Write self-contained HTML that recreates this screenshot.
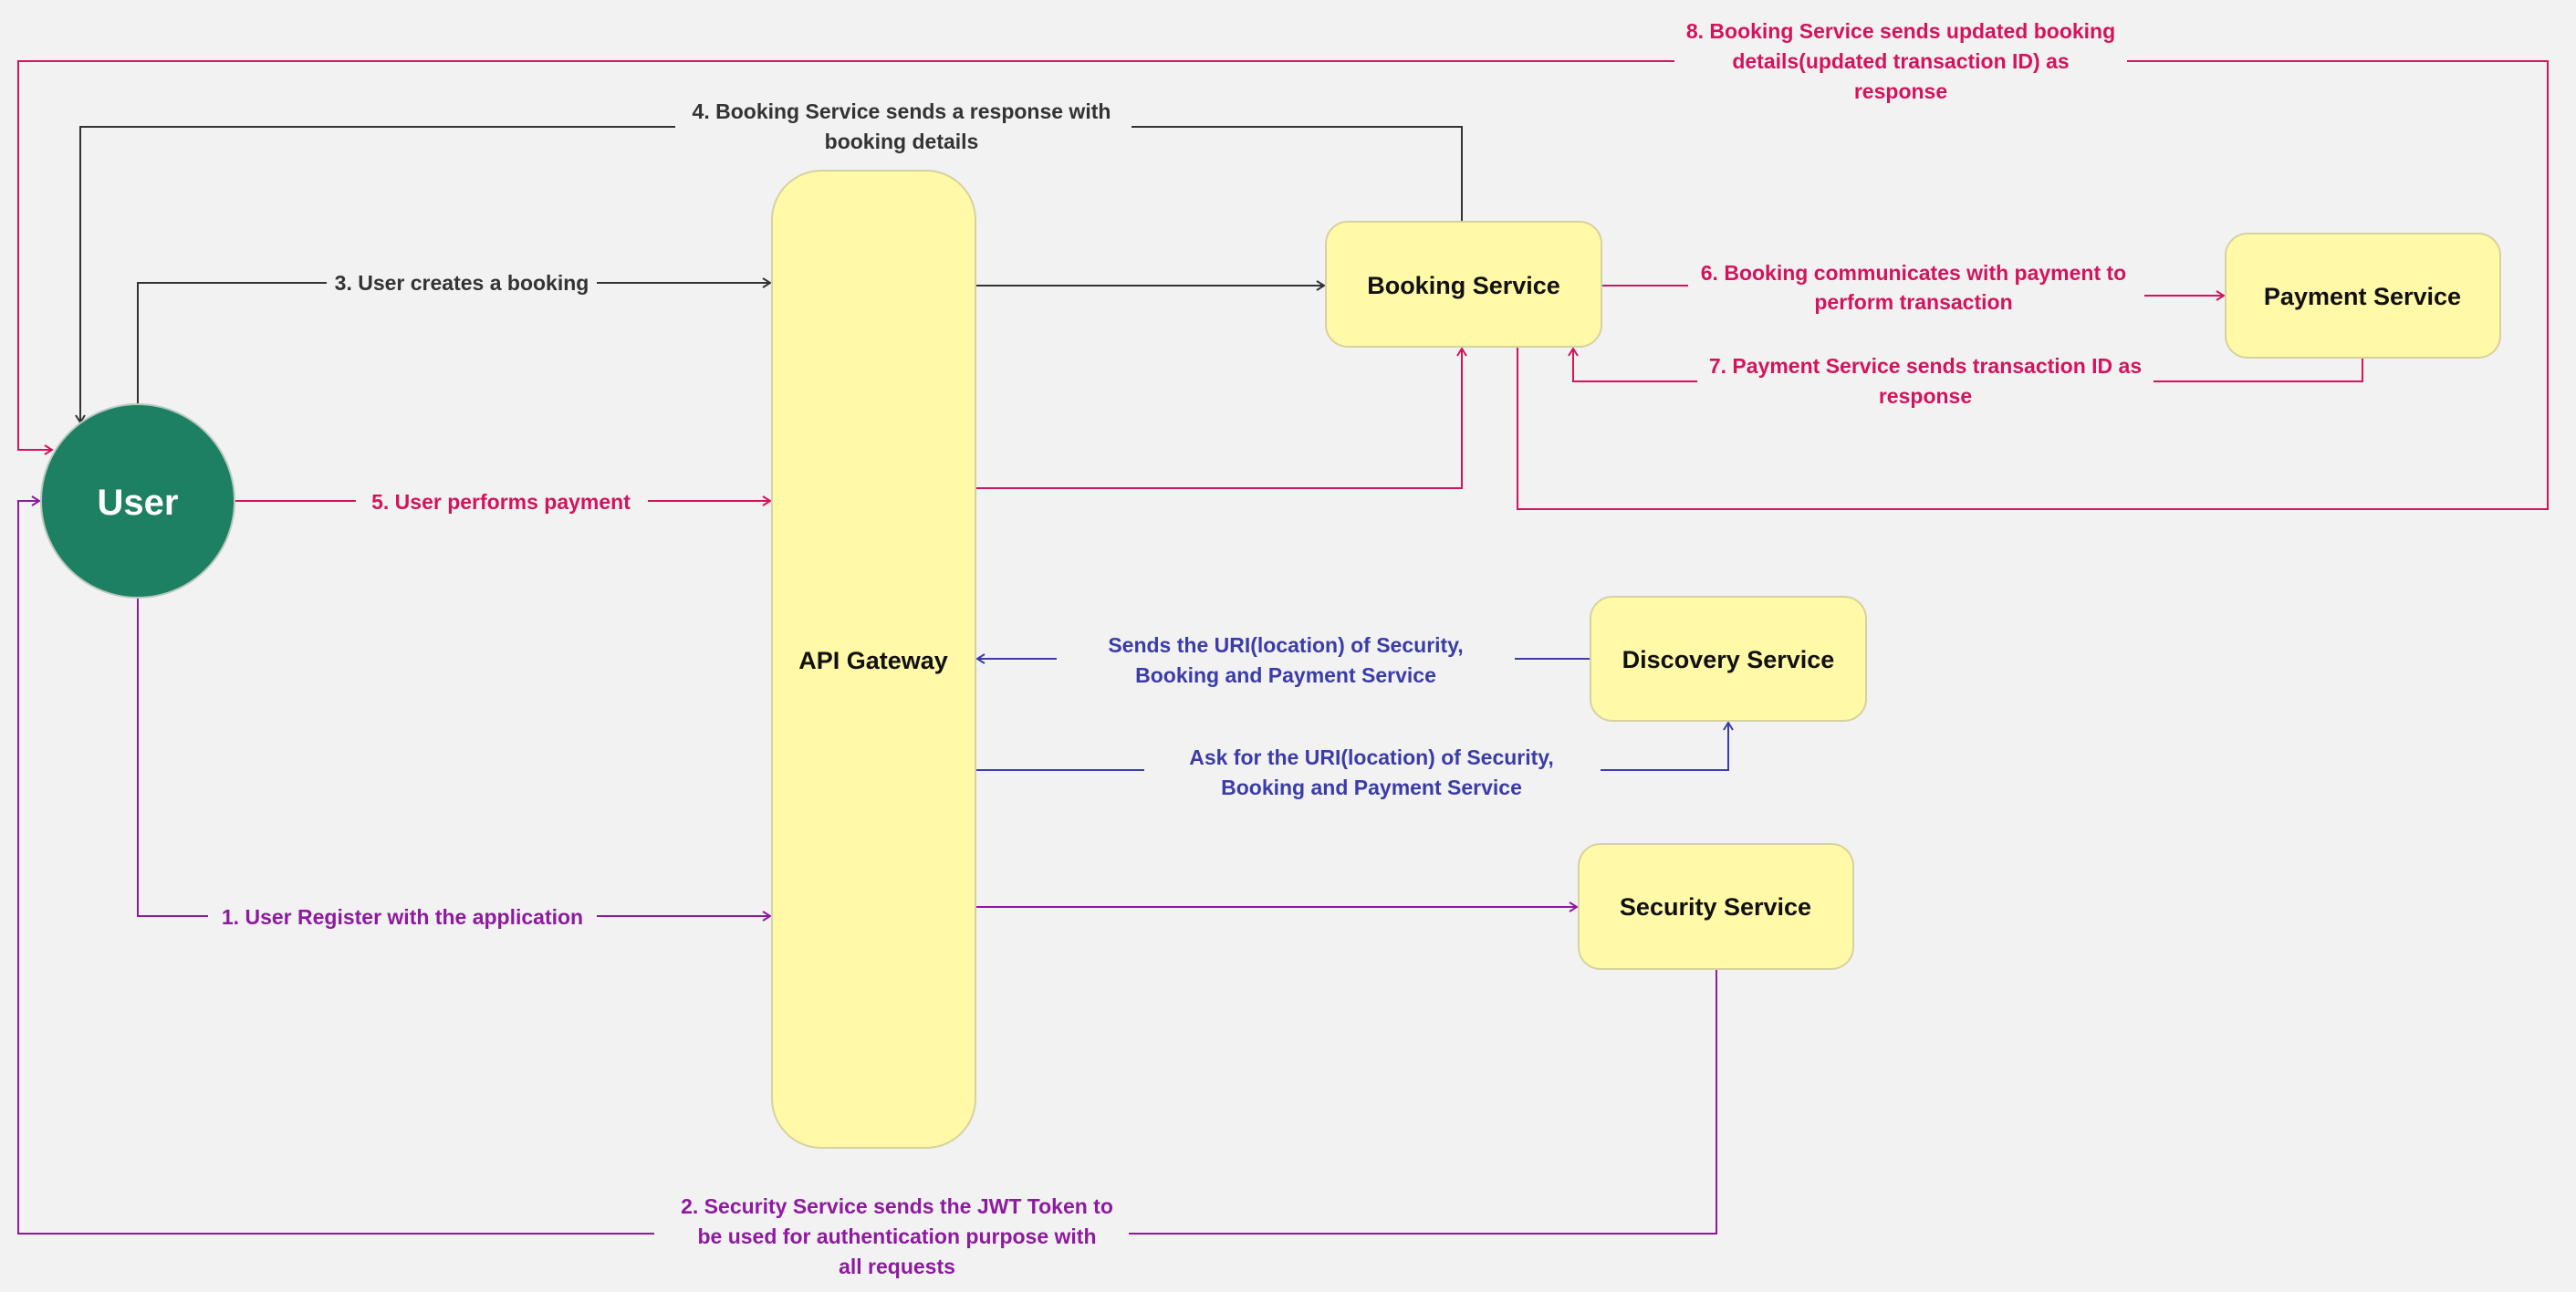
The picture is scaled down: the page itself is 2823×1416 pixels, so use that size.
<!DOCTYPE html>
<html><head><meta charset="utf-8"><style>
html,body{margin:0;padding:0;background:#f2f2f2;}
svg{display:block;}
text{font-family:"Liberation Sans",sans-serif;font-weight:bold;}
</style></head><body>
<svg width="2823" height="1416" viewBox="0 0 2823 1416" xmlns="http://www.w3.org/2000/svg">
<defs>
<marker id="ak" markerWidth="14" markerHeight="14" refX="11" refY="7" orient="auto" markerUnits="userSpaceOnUse"><path d="M3,2 L11,7 L3,12" fill="none" stroke="#333" stroke-width="2"/></marker>
<marker id="ap" markerWidth="14" markerHeight="14" refX="11" refY="7" orient="auto" markerUnits="userSpaceOnUse"><path d="M3,2 L11,7 L3,12" fill="none" stroke="#d3145c" stroke-width="2"/></marker>
<marker id="au" markerWidth="14" markerHeight="14" refX="11" refY="7" orient="auto" markerUnits="userSpaceOnUse"><path d="M3,2 L11,7 L3,12" fill="none" stroke="#8e1aa0" stroke-width="2"/></marker>
<marker id="ab" markerWidth="14" markerHeight="14" refX="11" refY="7" orient="auto" markerUnits="userSpaceOnUse"><path d="M3,2 L11,7 L3,12" fill="none" stroke="#3b3ca8" stroke-width="2"/></marker>
</defs>
<rect width="2823" height="1416" fill="#f2f2f2"/>
<g fill="none" stroke-width="2">
<!-- 8 -->
<path d="M1663,380 V558 H2792 V67 H20 V493 H57" stroke="#d3145c" marker-end="url(#ap)"/>
<!-- 4 -->
<path d="M1602,243 V139 H88 V463" stroke="#333" marker-end="url(#ak)"/>
<!-- 3 -->
<path d="M151,445 V310 H844" stroke="#333" marker-end="url(#ak)"/>
<path d="M1069,313 H1451" stroke="#333" marker-end="url(#ak)"/>
<!-- 5 -->
<path d="M257,549 H844" stroke="#d3145c" marker-end="url(#ap)"/>
<path d="M1069,535 H1602 V382" stroke="#d3145c" marker-end="url(#ap)"/>
<!-- 6 -->
<path d="M1755,313 H2095 V324 H2437" stroke="#d3145c" marker-end="url(#ap)"/>
<!-- 7 -->
<path d="M2589,392 V418 H1724 V382" stroke="#d3145c" marker-end="url(#ap)"/>
<!-- blue -->
<path d="M1743,722 H1071" stroke="#3b3ca8" marker-end="url(#ab)"/>
<path d="M1069,844 H1894 V792" stroke="#3b3ca8" marker-end="url(#ab)"/>
<!-- purple -->
<path d="M1069,994 H1728" stroke="#8e1aa0" marker-end="url(#au)"/>
<path d="M151,653 V1004 H844" stroke="#8e1aa0" marker-end="url(#au)"/>
<path d="M1881,1062 V1352 H20 V549 H43" stroke="#8e1aa0" marker-end="url(#au)"/>
</g>
<!-- label backgrounds -->
<g fill="#f2f2f2">
<rect x="1835" y="14" width="496" height="106"/>
<rect x="740" y="102" width="500" height="72"/>
<rect x="358" y="292" width="296" height="36"/>
<rect x="390" y="531" width="320" height="36"/>
<rect x="1850" y="280" width="500" height="70"/>
<rect x="1860" y="382" width="500" height="70"/>
<rect x="1158" y="688" width="502" height="70"/>
<rect x="1254" y="812" width="500" height="70"/>
<rect x="228" y="986" width="426" height="36"/>
<rect x="717" y="1302" width="520" height="106"/>
</g>
<!-- nodes -->
<rect x="846" y="187" width="223" height="1071" rx="54" fill="#fff9a8" stroke="#d6d29e" stroke-width="2"/>
<rect x="1453" y="243" width="302" height="137" rx="24" fill="#fff9a8" stroke="#d6d29e" stroke-width="2"/>
<rect x="2439" y="256" width="301" height="136" rx="24" fill="#fff9a8" stroke="#d6d29e" stroke-width="2"/>
<rect x="1743" y="654" width="302" height="136" rx="24" fill="#fff9a8" stroke="#d6d29e" stroke-width="2"/>
<rect x="1730" y="925" width="301" height="137" rx="24" fill="#fff9a8" stroke="#d6d29e" stroke-width="2"/>
<circle cx="151" cy="549" r="106" fill="#1e8063" stroke="#b9c9c0" stroke-width="2"/>
<g text-anchor="middle" font-size="27" fill="#111">
<text x="957" y="733">API Gateway</text>
<text x="1604" y="322">Booking Service</text>
<text x="2589" y="334">Payment Service</text>
<text x="1894" y="732">Discovery Service</text>
<text x="1880" y="1003">Security Service</text>
<text x="151" y="564" font-size="40" fill="#fff">User</text>
</g>
<g text-anchor="middle" font-size="23">
<g fill="#d3145c">
<text x="2083" y="42">8. Booking Service sends updated booking</text>
<text x="2083" y="75">details(updated transaction ID) as</text>
<text x="2083" y="108">response</text>
<text x="549" y="558">5.  User performs payment</text>
<text x="2097" y="307">6. Booking communicates with payment to</text>
<text x="2097" y="339">perform transaction</text>
<text x="2110" y="409">7. Payment Service sends transaction ID as</text>
<text x="2110" y="442">response</text>
</g>
<g fill="#333">
<text x="988" y="130">4. Booking Service sends a response with</text>
<text x="988" y="163">booking details</text>
<text x="506" y="318">3. User creates a booking</text>
</g>
<g fill="#3b3ca8">
<text x="1409" y="715">Sends the URI(location) of Security,</text>
<text x="1409" y="748">Booking and Payment Service</text>
<text x="1503" y="838">Ask for the URI(location) of Security,</text>
<text x="1503" y="871">Booking and Payment Service</text>
</g>
<g fill="#8e1aa0">
<text x="441" y="1013">1. User Register with the application</text>
<text x="983" y="1330">2. Security Service sends the JWT Token to</text>
<text x="983" y="1363">be used for authentication purpose with</text>
<text x="983" y="1396">all requests</text>
</g>
</g>
</svg>
</body></html>
